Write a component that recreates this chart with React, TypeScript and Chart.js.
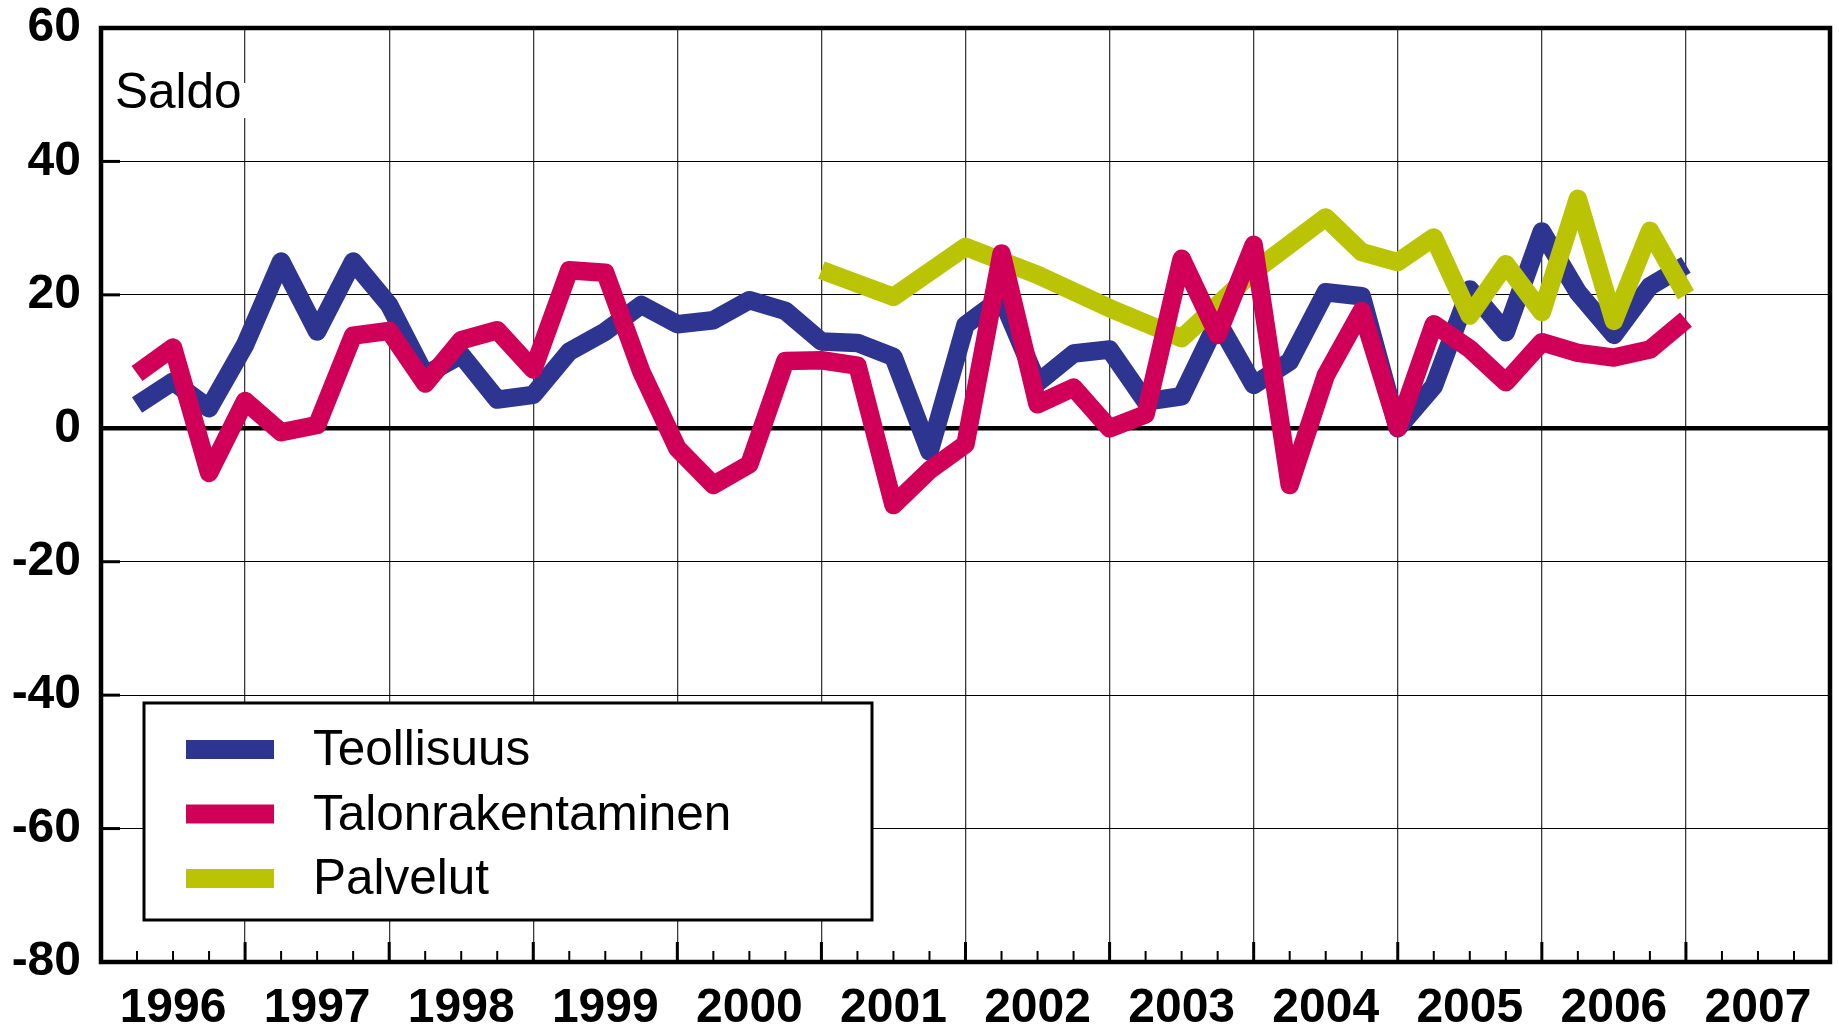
import React, { useEffect, useRef } from "react";
import { Chart, registerables } from "chart.js";

Chart.register(...registerables);

// Quarter index: 1 = 1996 Q1 ... 44 = 2006 Q4 (x axis runs 0..48 = 1996..2007 end)
const quarters = [
  1, 2, 3, 4, 5, 6, 7, 8, 9, 10, 11, 12, 13, 14, 15, 16, 17, 18, 19, 20, 21, 22,
  23, 24, 25, 26, 27, 28, 29, 30, 31, 32, 33, 34, 35, 36, 37, 38, 39, 40, 41, 42, 43, 44,
];

const teollisuus = [
  3.5, 7, 3, 12.5, 25, 14.5, 25, 18.5, 8, 11, 4.3, 5, 11.5, 14.5, 18.5, 15.6, 16.2,
  19.2, 17.6, 13, 12.8, 10.7, -3.5, 15.5, 19.5, 6.8, 11.2, 11.8, 4, 4.8, 16, 6.5,
  10, 20.4, 19.8, 0, 6.3, 20.8, 14.4, 29.5, 20.4, 14, 21.3, 24.5,
];

const talonrakentaminen = [
  8.2, 12.1, -6.7, 4.1, -0.6, 0.5, 13.9, 14.6, 6.7, 13.2, 14.7, 8.8, 23.7, 23.3,
  8.5, -3, -8.5, -5.4, 10.1, 10.2, 9.4, -11.5, -6.3, -2.4, 26.2, 3.6, 6.1, 0, 2.1,
  25.4, 14, 27.5, -8.5, 7.9, 17.6, 0.1, 15.6, 11.9, 6.9, 12.9, 11.3, 10.6, 11.8, 16.3,
];

const palvelutQuarters = [20, 22, 24, 26, 28, 30, 32, 34, 35, 36, 37, 38, 39, 40, 41, 42, 43, 44];
const palvelut = [
  23.7, 19.7, 27.2, 23, 18, 13.5, 23.5, 31.6, 26.4, 24.9, 28.6, 16.9, 24.6, 17.4,
  34.4, 16.1, 29.6, 20,
];

const yearLabels = [
  "1996", "1997", "1998", "1999", "2000", "2001", "2002", "2003", "2004", "2005", "2006", "2007",
];
const yTickValues = [-80, -60, -40, -20, 0, 20, 40, 60];

const seriesNames = ["Teollisuus", "Talonrakentaminen", "Palvelut"];
const seriesColors = ["#2E3590", "#D00058", "#BAC405"];
const unitLabel = "Saldo";

const FONT = '"Liberation Sans", Arial, Helvetica, sans-serif';

const decorPlugin = {
  id: "decor",
  beforeDatasetsDraw(chart: any) {
    const { ctx, chartArea: a, scales } = chart;
    const x = scales.x;
    const y = scales.y;
    ctx.save();
    ctx.strokeStyle = "#000";
    // quarterly ticks along the bottom axis (inside the plot)
    for (let k = 1; k < 48; k++) {
      const px = x.getPixelForValue(k);
      const major = k % 4 === 0;
      ctx.lineWidth = major ? 3 : 2;
      ctx.beginPath();
      ctx.moveTo(px, a.bottom);
      ctx.lineTo(px, a.bottom - (major ? 20 : 11));
      ctx.stroke();
    }
    // small ticks on the left axis
    ctx.lineWidth = 3;
    for (const v of yTickValues) {
      if (v === yTickValues[0] || v === yTickValues[yTickValues.length - 1]) continue;
      const py = y.getPixelForValue(v);
      ctx.beginPath();
      ctx.moveTo(a.left, py);
      ctx.lineTo(a.left + 19, py);
      ctx.stroke();
    }
    // unit label with white background
    ctx.fillStyle = "#fff";
    ctx.fillRect(a.left + 10, a.top + 55, 144, 35);
    ctx.fillStyle = "#000";
    ctx.font = "49.5px " + FONT;
    ctx.textBaseline = "alphabetic";
    ctx.textAlign = "left";
    ctx.fillText(unitLabel, a.left + 14, a.top + 80);
    ctx.restore();
  },
  afterDatasetsDraw(chart: any) {
    const { ctx, chartArea: a } = chart;
    ctx.save();
    // frame
    ctx.strokeStyle = "#000";
    ctx.lineWidth = 4.5;
    ctx.strokeRect(a.left, a.top, a.right - a.left, a.bottom - a.top);
    // legend
    const lx = a.left + 43;
    const ly = a.top + 675;
    const lw = 728;
    const lh = 217;
    ctx.fillStyle = "#fff";
    ctx.fillRect(lx, ly, lw, lh);
    ctx.lineWidth = 3;
    ctx.strokeRect(lx, ly, lw, lh);
    ctx.font = "49.5px " + FONT;
    ctx.textAlign = "left";
    ctx.textBaseline = "alphabetic";
    const rowCenters = [46.5, 111, 175.5];
    seriesNames.forEach((name, i) => {
      const cy = ly + rowCenters[i];
      ctx.fillStyle = seriesColors[i];
      ctx.fillRect(lx + 42, cy - 9.5, 88, 19);
      ctx.fillStyle = "#000";
      ctx.fillText(name, lx + 169, cy + 15.5);
    });
    ctx.restore();
  },
};

export default function App() {
  const canvasRef = useRef<HTMLCanvasElement | null>(null);

  useEffect(() => {
    const canvas = canvasRef.current;
    if (!canvas) return;
    Chart.defaults.font.family = FONT;
    Chart.defaults.color = "#000";

    const lineCommon = {
      borderWidth: 18.5,
      pointRadius: 0,
      pointHoverRadius: 0,
      tension: 0,
      fill: false,
      borderJoinStyle: "round" as const,
      borderCapStyle: "butt" as const,
    };

    const chart = new Chart(canvas, {
      type: "line",
      data: {
        datasets: [
          {
            ...lineCommon,
            label: seriesNames[0],
            data: quarters.map((q, i) => ({ x: q, y: teollisuus[i] })),
            borderColor: seriesColors[0],
            backgroundColor: seriesColors[0],
            order: 3,
          },
          {
            ...lineCommon,
            label: seriesNames[1],
            data: quarters.map((q, i) => ({ x: q, y: talonrakentaminen[i] })),
            borderColor: seriesColors[1],
            backgroundColor: seriesColors[1],
            order: 1,
          },
          {
            ...lineCommon,
            label: seriesNames[2],
            data: palvelutQuarters.map((q, i) => ({ x: q, y: palvelut[i] })),
            borderColor: seriesColors[2],
            backgroundColor: seriesColors[2],
            order: 2,
          },
        ],
      },
      options: {
        animation: false,
        responsive: false,
        devicePixelRatio: 1,
        events: [],
        layout: { padding: { top: 28, right: 9, left: 0, bottom: 0 } },
        plugins: {
          legend: { display: false },
          tooltip: { enabled: false },
          title: { display: false },
        },
        scales: {
          x: {
            type: "linear",
            min: 0,
            max: 48,
            afterFit: (scale: any) => {
              scale.height = 71;
              scale.paddingLeft = 0;
              scale.paddingRight = 0;
              scale.paddingTop = 0;
              scale.paddingBottom = 0;
            },
            afterBuildTicks: (scale: any) => {
              const t = [];
              for (let k = 0; k <= 48; k++) t.push({ value: k });
              scale.ticks = t;
            },
            ticks: {
              autoSkip: false,
              maxRotation: 0,
              minRotation: 0,
              padding: 18,
              font: { size: 48, weight: "bold" },
              color: "#000",
              callback: (v: any) => {
                const n = Number(v);
                if (n % 4 === 2) return yearLabels[(n - 2) / 4];
                return "";
              },
            },
            grid: {
              drawTicks: false,
              color: (c: any) =>
                c.tick && c.tick.value % 4 === 0 ? "#3a3a3a" : "rgba(0,0,0,0)",
              lineWidth: 1.3,
            },
            border: { display: false },
          },
          y: {
            type: "linear",
            min: -80,
            max: 60,
            afterFit: (scale: any) => {
              scale.width = 101;
              scale.paddingTop = 0;
              scale.paddingBottom = 0;
              scale.paddingLeft = 0;
              scale.paddingRight = 0;
            },
            afterBuildTicks: (scale: any) => {
              scale.ticks = yTickValues.map((v) => ({ value: v }));
            },
            ticks: {
              padding: 20,
              font: { size: 48, weight: "bold" },
              color: "#000",
            },
            grid: {
              drawTicks: false,
              color: "#000",
              lineWidth: (c: any) => (c.tick && c.tick.value === 0 ? 4.5 : 1),
            },
            border: { display: false },
          },
        },
      },
      plugins: [decorPlugin],
    });

    return () => {
      chart.destroy();
    };
  }, []);

  return (
    <div style={{ position: "absolute", left: 0, top: 0, width: 1839, height: 1033, background: "#fff" }}>
      <canvas ref={canvasRef} width={1839} height={1033} style={{ display: "block" }} />
    </div>
  );
}
